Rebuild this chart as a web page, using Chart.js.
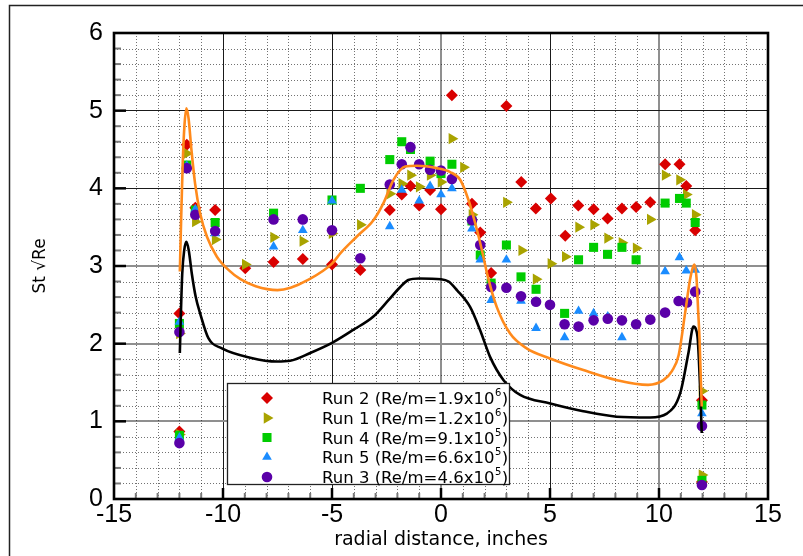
<!DOCTYPE html>
<html>
<head>
<meta charset="utf-8">
<script src="https://cdn.jsdelivr.net/npm/chart.js@4/dist/chart.umd.min.js"></script>
<style>
  html, body { margin: 0; padding: 0; background: #fff; }
  canvas { display: block; }
</style>
</head>
<body>
<canvas id="c" width="803" height="556"></canvas>
<script>
// Measured Stanton-number profiles across the radial traverse
const run2X = [-12.0, -12.0, -11.66, -11.27, -10.36, -8.98, -7.68, -6.34, -5.0, -3.7, -2.35, -1.8, -1.4, -1.0, -0.5, 0.0, 0.5, 1.42, 1.8, 2.3, 3.0, 3.68, 4.35, 5.04, 5.7, 6.3, 7.0, 7.64, 8.3, 8.95, 9.6, 10.28, 10.94, 11.25, 11.66, 11.97, 11.97];
const run2Y = [2.39, 0.87, 4.56, 3.75, 3.72, 2.97, 3.05, 3.09, 3.02, 2.95, 3.72, 3.92, 4.03, 3.78, 3.98, 3.73, 5.20, 3.80, 3.43, 2.91, 5.06, 4.08, 3.74, 3.87, 3.39, 3.78, 3.73, 3.61, 3.74, 3.76, 3.82, 4.31, 4.31, 4.03, 3.46, 1.27, 0.22];

const run1X = [-12.0, -12.0, -11.66, -11.27, -10.36, -8.98, -7.68, -6.34, -5.0, -3.7, -2.35, -1.8, -1.4, -1.0, -0.5, 0.0, 0.5, 1.03, 1.42, 3.0, 3.7, 4.36, 5.04, 5.7, 6.31, 7.0, 7.64, 8.3, 8.95, 9.6, 10.28, 10.94, 11.25, 11.66, 11.97, 11.97];
const run1Y = [2.13, 0.83, 4.45, 3.57, 3.34, 3.02, 3.37, 3.32, 3.42, 3.53, 3.93, 4.06, 4.17, 4.02, 4.17, 4.08, 4.64, 4.27, 3.66, 3.82, 3.20, 2.83, 3.03, 3.12, 3.50, 3.53, 3.36, 3.30, 3.23, 3.60, 4.17, 4.11, 3.92, 3.66, 1.39, 0.31];

const run4X = [-12.0, -12.0, -11.66, -11.27, -10.36, -7.68, -5.0, -3.7, -2.35, -1.8, -1.4, -0.5, 0.0, 0.5, 1.42, 1.8, 2.3, 3.0, 3.67, 4.36, 5.67, 6.31, 7.0, 7.64, 8.3, 8.95, 10.28, 10.94, 11.25, 11.66, 11.97, 11.97];
const run4Y = [2.26, 0.82, 4.30, 3.72, 3.56, 3.68, 3.85, 4.00, 4.37, 4.60, 4.50, 4.35, 4.19, 4.31, 3.58, 3.14, 2.78, 3.27, 2.86, 2.70, 2.39, 3.08, 3.24, 3.15, 3.24, 3.08, 3.81, 3.87, 3.81, 3.56, 1.21, 0.24];

const run5X = [-12.0, -12.0, -11.66, -11.27, -10.36, -7.68, -6.34, -5.0, -2.35, -1.8, -1.0, -0.5, 0.0, 0.5, 1.42, 1.8, 2.3, 3.0, 3.67, 4.36, 5.67, 6.31, 7.0, 7.65, 8.3, 10.28, 10.94, 11.25, 11.66, 11.97];
const run5Y = [2.28, 0.79, 4.29, 3.73, 3.42, 3.25, 3.46, 3.84, 3.51, 3.98, 3.84, 4.03, 3.92, 4.00, 3.48, 3.08, 2.56, 3.08, 2.55, 2.20, 2.08, 2.42, 2.39, 2.35, 2.08, 2.93, 3.11, 2.94, 2.95, 1.10];

const run3X = [-12.0, -12.0, -11.66, -11.27, -10.36, -7.68, -6.34, -5.0, -3.7, -2.35, -1.8, -1.4, -1.0, -0.5, 0.0, 0.5, 1.42, 1.8, 2.3, 3.0, 3.67, 4.36, 5.0, 5.67, 6.31, 7.0, 7.65, 8.3, 8.95, 9.6, 10.28, 10.9, 11.28, 11.66, 11.97, 11.97];
const run3Y = [2.15, 0.72, 4.26, 3.66, 3.45, 3.60, 3.60, 3.46, 3.10, 4.05, 4.31, 4.53, 4.31, 4.24, 4.23, 4.12, 3.59, 3.27, 2.73, 2.72, 2.61, 2.54, 2.50, 2.25, 2.22, 2.30, 2.32, 2.30, 2.25, 2.31, 2.40, 2.55, 2.53, 2.67, 0.94, 0.18];

// Predicted profiles (two computations)
const orangeX = [-11.98, -11.92, -11.85, -11.77, -11.68, -11.58, -11.45, -11.28, -11.05, -10.74, -10.28, -9.75, -9.2, -8.5, -7.5, -6.9, -6.1, -5.0, -4.6, -3.86, -3.1, -2.64, -2.18, -1.64, -1.1, -0.2, 0.42, 0.88, 1.26, 1.57, 1.88, 2.15, 2.56, 3.17, 3.93, 5.0, 6.53, 8.07, 9.5, 10.2, 10.6, 10.9, 11.2, 11.42, 11.55, 11.63, 11.72, 11.8, 11.86, 11.92, 11.96];
const orangeY = [2.93, 3.6, 4.3, 4.8, 5.03, 4.9, 4.5, 4.06, 3.68, 3.38, 3.12, 2.95, 2.83, 2.74, 2.69, 2.72, 2.82, 3.03, 3.17, 3.38, 3.59, 3.81, 4.11, 4.28, 4.29, 4.26, 4.21, 4.11, 3.85, 3.55, 3.2, 2.86, 2.47, 2.13, 1.94, 1.81, 1.66, 1.53, 1.47, 1.53, 1.65, 1.85, 2.4, 2.82, 2.98, 3.02, 2.85, 2.4, 2.05, 1.53, 1.19];

const blackX = [-11.98, -11.93, -11.87, -11.78, -11.68, -11.57, -11.43, -11.25, -11.05, -10.67, -10.05, -8.75, -7.53, -6.92, -6.0, -5.0, -4.01, -3.1, -2.41, -1.87, -1.5, -1.0, 0.0, 0.35, 0.73, 1.34, 1.8, 2.25, 2.87, 3.63, 5.01, 6.53, 8.06, 9.59, 10.36, 10.97, 11.35, 11.58, 11.7, 11.78, 11.89, 11.96];
const blackY = [1.88, 2.4, 2.9, 3.2, 3.31, 3.2, 2.9, 2.6, 2.39, 2.07, 1.94, 1.82, 1.77, 1.78, 1.88, 2.01, 2.18, 2.35, 2.56, 2.73, 2.82, 2.84, 2.83, 2.8, 2.69, 2.47, 2.17, 1.83, 1.53, 1.34, 1.23, 1.13, 1.06, 1.05, 1.10, 1.36, 1.88, 2.22, 2.18, 2.05, 1.40, 0.85];

// Legend text
const runLabels = ['Run 2', 'Run 1', 'Run 4', 'Run 5', 'Run 3'];
const reMantissa = ['1.9', '1.2', '9.1', '6.6', '4.6'];
const reExponent = ['6', '6', '5', '5', '5'];

// Axis labels
const xTitle = 'radial distance, inches';
const yTitle = 'St \u221ARe';

const pts = (xs, ys) => xs.map((x, i) => ({ x: x, y: ys[i] }));

const markerStyles = [
  { color: '#d90000', pointStyle: 'rectRot',  radius: 6,   rotation: 0 },
  { color: '#a9a300', pointStyle: 'triangle', radius: 6.5, rotation: 90 },
  { color: '#00cc00', pointStyle: 'rect',     radius: 6.4, rotation: 0 },
  { color: '#1a8cff', pointStyle: 'triangle', radius: 5.6, rotation: 0 },
  { color: '#5a00a8', pointStyle: 'circle',   radius: 5.3, rotation: 0 }
];
const runData = [pts(run2X, run2Y), pts(run1X, run1Y), pts(run4X, run4Y), pts(run5X, run5Y), pts(run3X, run3Y)];

const datasets = [];
runData.forEach((d, i) => {
  const m = markerStyles[i];
  datasets.push({
    label: runLabels[i],
    data: d,
    showLine: false,
    pointStyle: m.pointStyle,
    pointRadius: m.radius,
    pointRotation: m.rotation,
    pointBorderWidth: 0,
    backgroundColor: m.color,
    borderColor: m.color,
    order: 5 - i
  });
});
datasets.push({
  label: 'orange',
  data: pts(orangeX, orangeY),
  showLine: true,
  borderColor: '#ff8a1c',
  borderWidth: 2.6,
  pointRadius: 0,
  cubicInterpolationMode: 'monotone',
  fill: false,
  order: 0
});
datasets.push({
  label: 'black',
  data: pts(blackX, blackY),
  showLine: true,
  borderColor: '#000000',
  borderWidth: 2.6,
  pointRadius: 0,
  cubicInterpolationMode: 'monotone',
  fill: false,
  order: 0
});

const FONT = "'DejaVu Sans', 'Liberation Sans', sans-serif";
const TICK_FONT = "'Liberation Sans', Arial, sans-serif";

const decor = {
  id: 'decor',
  beforeDatasetsDraw(chart) {
    const { ctx, chartArea: a, scales: { x, y } } = chart;
    ctx.save();
    ctx.strokeStyle = 'rgba(20,20,20,0.6)';
    ctx.lineWidth = 1;
    ctx.setLineDash([1, 2]);
    for (let v = -14; v <= 14; v++) {
      if (v % 5 === 0) continue;
      const px = Math.round(x.getPixelForValue(v)) + 0.5;
      ctx.beginPath(); ctx.moveTo(px, a.top); ctx.lineTo(px, a.bottom); ctx.stroke();
    }
    for (let i = 1; i < 30; i++) {
      if (i % 5 === 0) continue;
      const py = Math.round(y.getPixelForValue(i / 5)) + 0.5;
      ctx.beginPath(); ctx.moveTo(a.left, py); ctx.lineTo(a.right, py); ctx.stroke();
    }
    ctx.restore();
  },
  afterDatasetsDraw(chart) {
    const { ctx, chartArea: a, scales: { x, y } } = chart;
    ctx.save();
    // inward tick marks on left axis
    for (let i = 1; i < 30; i++) {
      const py = y.getPixelForValue(i / 5);
      const major = i % 5 === 0;
      ctx.strokeStyle = major ? '#000' : '#7a7a7a';
      ctx.lineWidth = major ? 2.5 : 2;
      ctx.beginPath(); ctx.moveTo(a.left, py); ctx.lineTo(a.left + (major ? 12 : 7), py); ctx.stroke();
    }
    // inward tick marks on bottom axis
    for (let v = -14; v <= 14; v++) {
      const px = x.getPixelForValue(v);
      const major = v % 5 === 0;
      ctx.strokeStyle = major ? '#000' : '#7a7a7a';
      ctx.lineWidth = major ? 2.5 : 2;
      ctx.beginPath(); ctx.moveTo(px, a.bottom); ctx.lineTo(px, a.bottom - (major ? 11 : 6)); ctx.stroke();
    }
    // plot frame
    ctx.strokeStyle = '#000';
    ctx.lineWidth = 2.6;
    ctx.strokeRect(a.left, a.top, a.right - a.left, a.bottom - a.top);

    // outer figure border (top and left edges)
    ctx.lineWidth = 1.5;
    ctx.strokeStyle = '#222';
    ctx.beginPath();
    ctx.moveTo(9.5, 556); ctx.lineTo(9.5, 5.5); ctx.lineTo(803, 5.5);
    ctx.stroke();

    // legend box
    const bx = 227, by = 383, bw = 282, bh = 101;
    ctx.fillStyle = '#fff';
    ctx.fillRect(bx, by, bw, bh);
    ctx.strokeStyle = '#222';
    ctx.lineWidth = 1.3;
    ctx.strokeRect(bx + 0.5, by + 0.5, bw, bh);
    const rowY = [398, 418, 437.5, 457, 477];
    runLabels.forEach((lab, i) => {
      const m = markerStyles[i];
      ctx.fillStyle = m.color;
      ctx.strokeStyle = m.color;
      Chart.helpers.drawPoint(ctx, { pointStyle: m.pointStyle, radius: m.radius, rotation: m.rotation, borderWidth: 0 }, 267, rowY[i]);
      ctx.fillStyle = '#000';
      ctx.textBaseline = 'alphabetic';
      ctx.textAlign = 'left';
      ctx.font = '16.5px ' + FONT;
      const base = lab + ' (Re/m=' + reMantissa[i] + 'x10';
      let tx = 322;
      const ty = rowY[i] + 6;
      ctx.fillText(base, tx, ty);
      tx += ctx.measureText(base).width + 0.5;
      ctx.font = '10px ' + FONT;
      ctx.fillText(reExponent[i], tx, ty - 8);
      tx += ctx.measureText(reExponent[i]).width + 0.5;
      ctx.font = '16.5px ' + FONT;
      ctx.fillText(')', tx, ty);
    });
    ctx.restore();
  }
};

new Chart(document.getElementById('c'), {
  type: 'scatter',
  data: { datasets: datasets },
  options: {
    responsive: false,
    animation: false,
    layout: { padding: { left: 0, top: 33, right: 35, bottom: 0 } },
    plugins: { legend: { display: false }, tooltip: { enabled: false } },
    scales: {
      x: {
        type: 'linear',
        min: -15, max: 15,
        afterFit(s) { s.height = 57; },
        border: { display: false },
        grid: {
          drawTicks: false,
          color: c => ([0, 10].includes(c.tick.value) ? '#8f8f8f' : '#1a1a1a'),
          lineWidth: c => ([0, 10].includes(c.tick.value) ? 2 : 1)
        },
        ticks: { stepSize: 5, padding: 1, color: '#000', font: { family: TICK_FONT, size: 25 } },
        title: { display: true, text: xTitle, color: '#000', font: { family: FONT, size: 19 }, padding: { top: 0, bottom: 5 } }
      },
      y: {
        type: 'linear',
        min: 0, max: 6,
        afterFit(s) { s.width = 114; },
        border: { display: false },
        grid: {
          drawTicks: false,
          color: c => ([1, 2, 3].includes(c.tick.value) ? '#8f8f8f' : '#1a1a1a'),
          lineWidth: c => ([1, 2, 3].includes(c.tick.value) ? 2 : 1)
        },
        ticks: { stepSize: 1, padding: 11, color: '#000', font: { family: TICK_FONT, size: 25 } },
        title: { display: true, text: yTitle, color: '#000', font: { family: FONT, size: 17 }, padding: { top: 30, bottom: 0 } }
      }
    }
  },
  plugins: [decor]
});
</script>
</body>
</html>
